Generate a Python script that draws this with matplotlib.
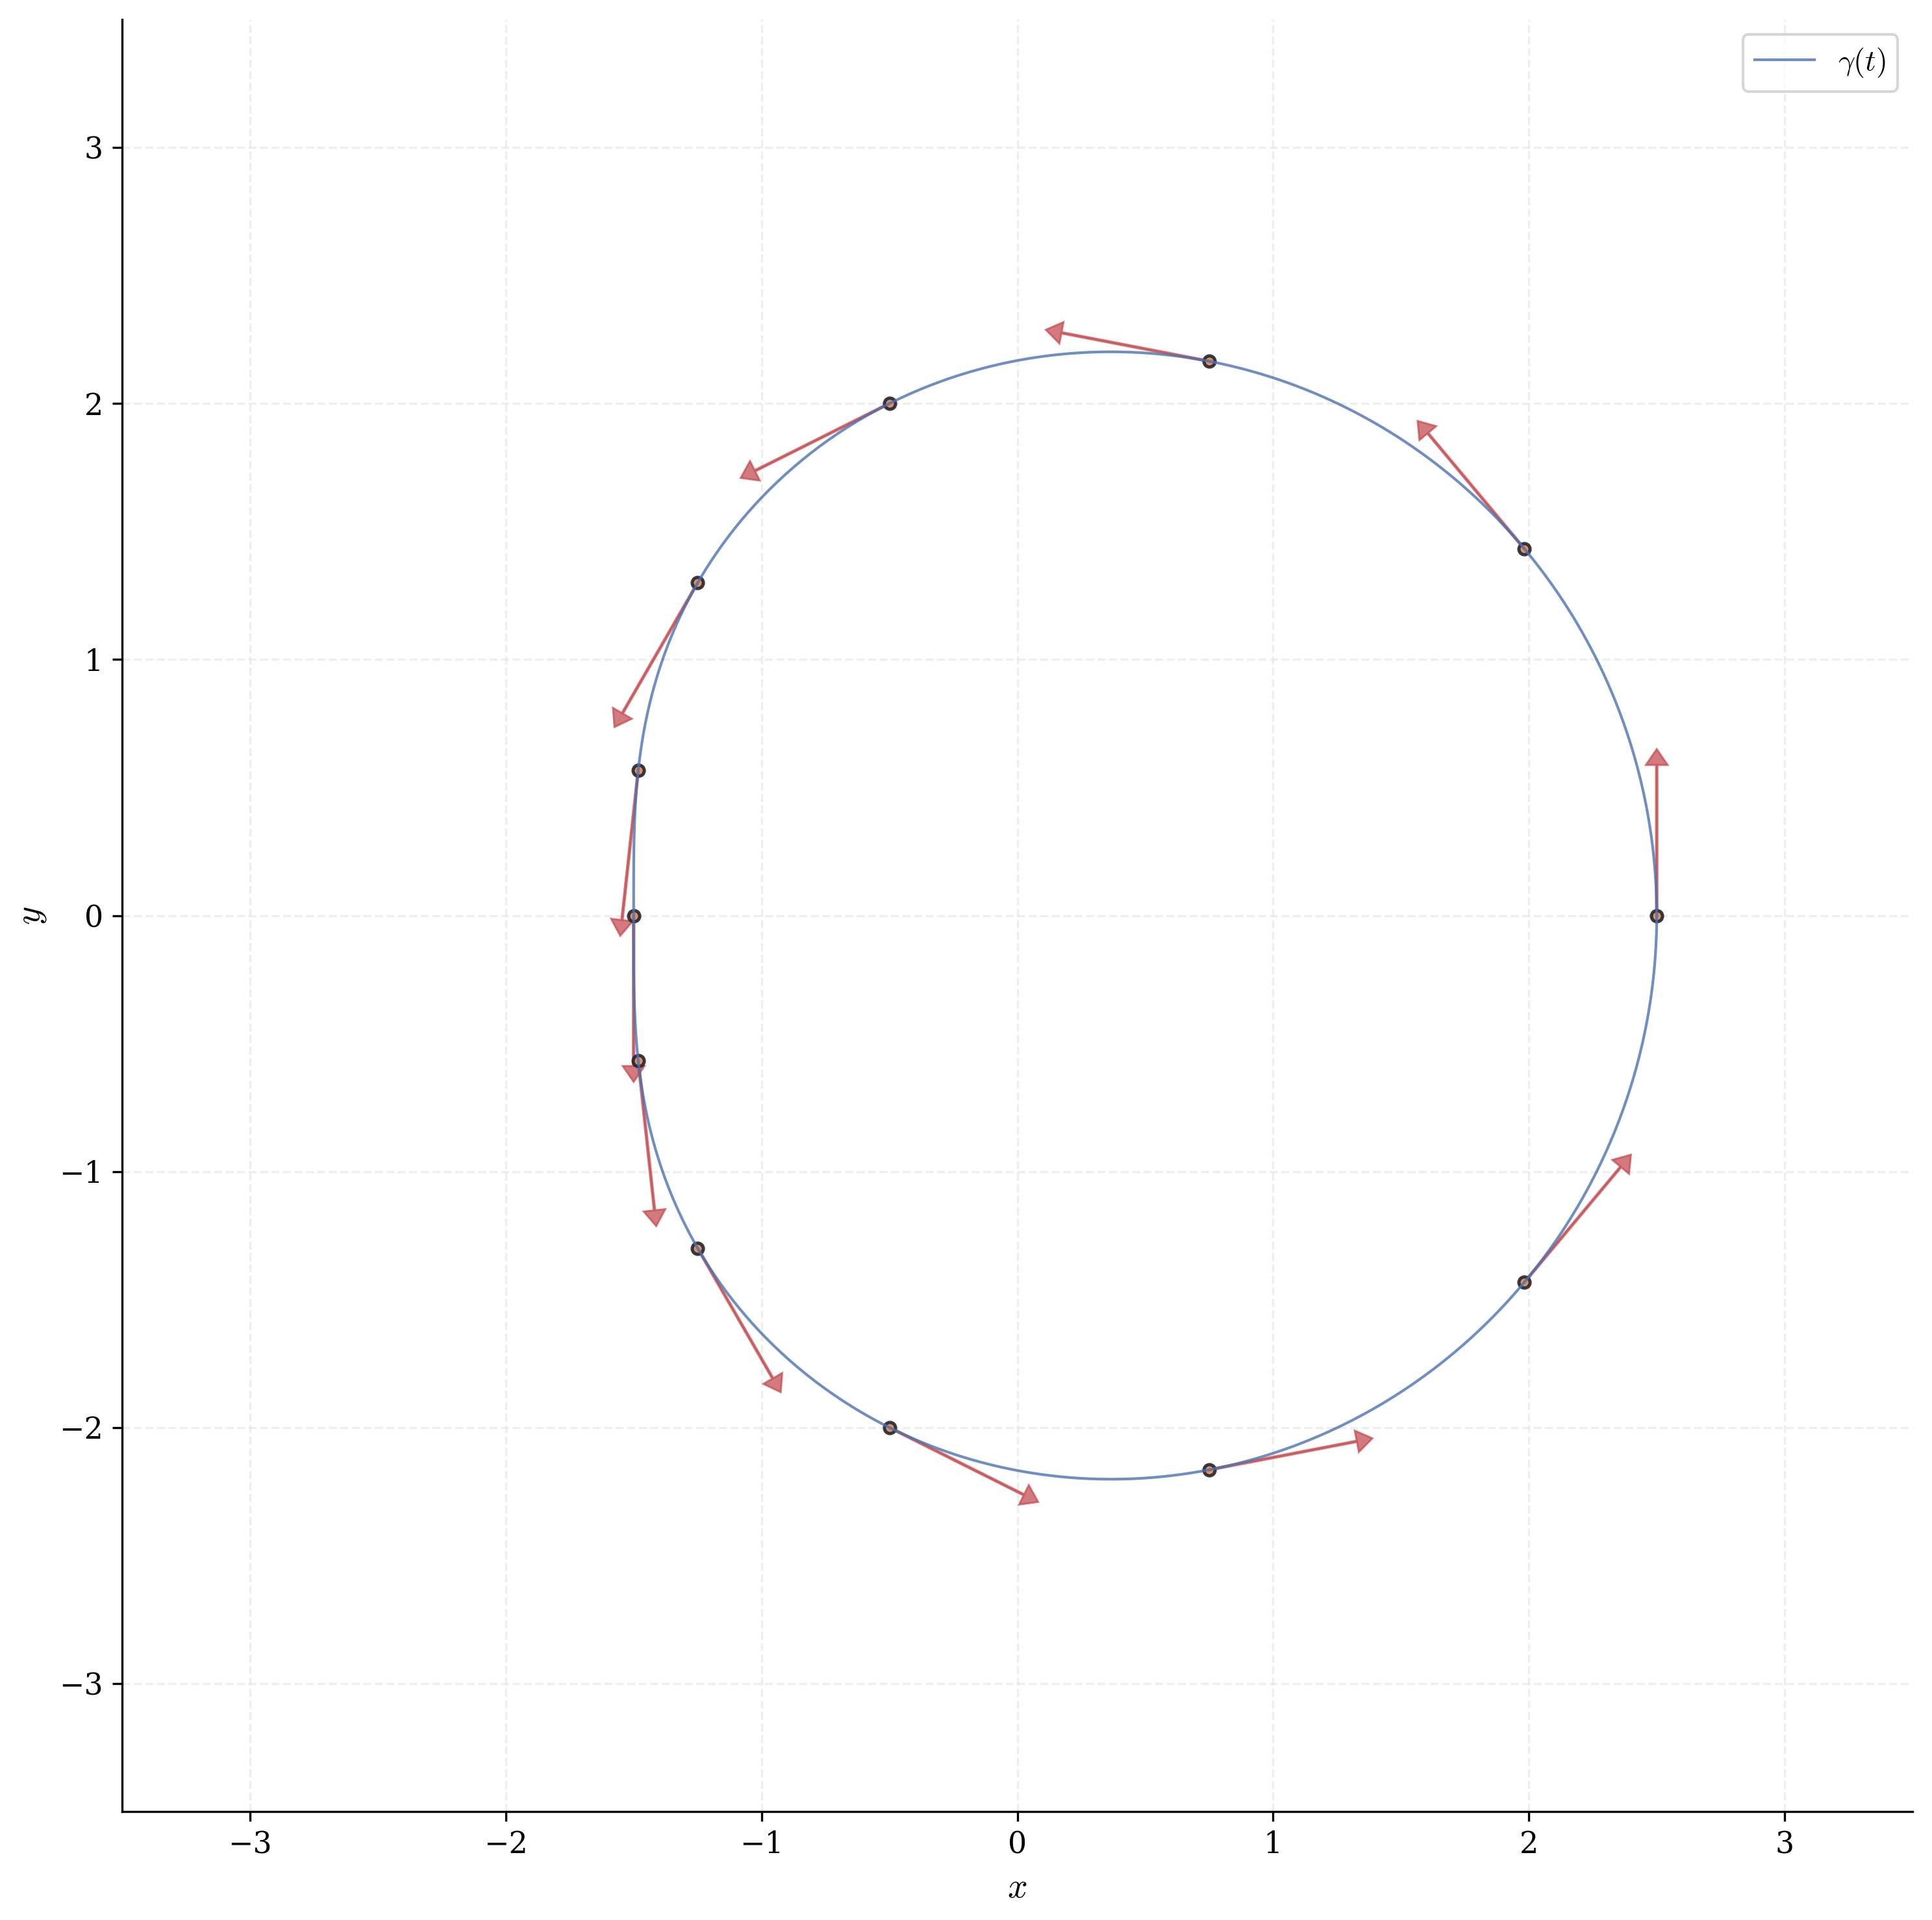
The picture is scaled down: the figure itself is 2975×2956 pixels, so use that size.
import matplotlib
matplotlib.use("Agg")
import matplotlib.pyplot as plt
import numpy as np

plt.rcParams["font.family"] = "serif"
plt.rcParams["font.serif"] = ["DejaVu Serif"]
plt.rcParams["mathtext.fontset"] = "cm"
plt.rcParams["font.size"] = 11

# curve gamma(t) = (a cos t + b cos 2t, a sin t + b sin 2t)
a_coef = 2.0
b_coef = 0.5

# parameter values of the marked points (degrees)
t_marks_deg = [0, 30, 60, 90, 120, 150, 180, 210, 240, 270, 300, 330]

# arrow length (unit tangent scaled)
arrow_len = 0.65

blue = "#4c72b0"
red = "#c44e52"
orange = "#dd8452"


def gamma(t):
    return (a_coef * np.cos(t) + b_coef * np.cos(2 * t),
            a_coef * np.sin(t) + b_coef * np.sin(2 * t))


def dgamma(t):
    return (-a_coef * np.sin(t) - 2 * b_coef * np.sin(2 * t),
            a_coef * np.cos(t) + 2 * b_coef * np.cos(2 * t))


fig = plt.figure(figsize=(2975 / 300, 2956 / 300), dpi=300)
ax = fig.add_axes([188 / 2975, 1 - 2789 / 2956, (2945 - 188) / 2975, (2789 - 30) / 2956])

tt = np.linspace(0, 2 * np.pi, 600)
cx, cy = gamma(tt)
ax.plot(cx, cy, color=blue, alpha=0.8, lw=1.0, label=r"$\gamma(t)$", zorder=4)

tm = np.deg2rad(t_marks_deg)
px, py = gamma(tm)
vx, vy = dgamma(tm)
norm = np.hypot(vx, vy)
for x0, y0, dx, dy, n in zip(px, py, vx, vy, norm):
    ax.arrow(x0, y0, arrow_len * dx / n, arrow_len * dy / n, width=0.006,
             head_width=0.085, head_length=0.062, length_includes_head=True,
             fc=red, ec=red, alpha=0.75, lw=0.7, zorder=2)

ax.scatter(px, py, s=17, color=orange, edgecolors="#22262f", linewidths=1.2,
           alpha=0.9, zorder=3)

ax.set_xlim(-3.5, 3.5)
ax.set_ylim(-3.5, 3.5)
ax.set_xticks([-3, -2, -1, 0, 1, 2, 3])
ax.set_yticks([-3, -2, -1, 0, 1, 2, 3])
ax.set_xlabel(r"$x$", fontsize=13)
ax.set_ylabel(r"$y$", fontsize=13)
ax.grid(True, ls="--", color="#e3e3e3", lw=0.8, alpha=0.6)
ax.spines["top"].set_visible(False)
ax.spines["right"].set_visible(False)
ax.legend(loc="upper right", edgecolor="#cccccc")

fig.savefig("out.png", dpi=300)
